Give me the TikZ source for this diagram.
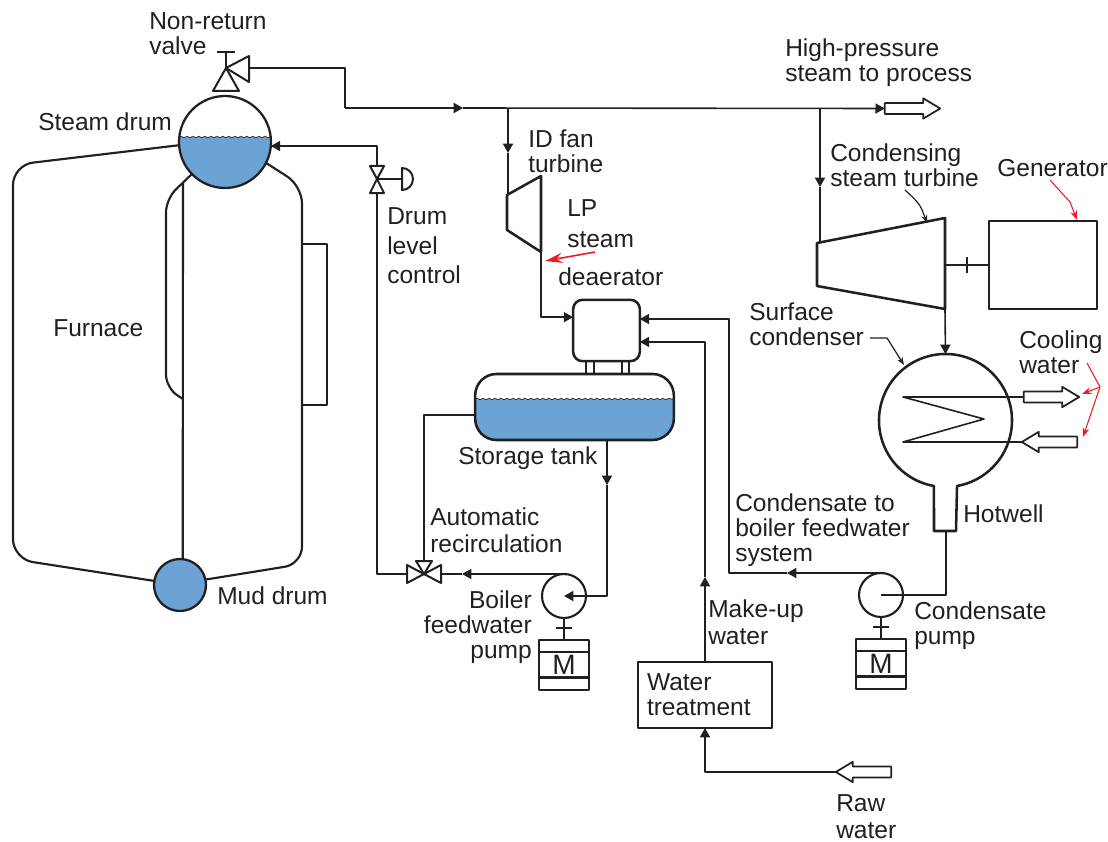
\documentclass[tikz,border=0pt]{standalone}
\usepackage{fontspec}
\setmainfont{Liberation Sans}
\usetikzlibrary{arrows.meta, positioning, shapes.arrows, decorations.pathmorphing}

\definecolor{inkblack}{HTML}{231F20}
\definecolor{waterblue}{HTML}{6CA3D5}
\definecolor{markred}{HTML}{ED1C24}

\begin{document}
\begin{tikzpicture}[
    x=0.75pt,
    y=-0.75pt,
    >=Stealth,
    line join=round,
    pipe/.style={draw=inkblack, line width=1.2pt},
    flow/.style={pipe, -{Triangle[length=7pt,width=7.5pt]}},
    wall/.style={draw=inkblack, line width=1.6pt},
    vessel/.style={draw=inkblack, line width=1.9pt, outer sep=0pt, inner sep=0pt},
    waterfill/.style={path picture={
        \fill[waterblue, sharp corners] (path picture bounding box.south west) rectangle ([yshift=#1]path picture bounding box.east);
        \draw[inkblack, sharp corners, line width=0.5pt, decorate, decoration={snake, amplitude=0.7pt, segment length=4.5pt}]
            ([yshift=#1]path picture bounding box.west) -- ([yshift=#1]path picture bounding box.east);
    }},
    drum/.style={circle, vessel, line width=1.7pt},
    pump/.style={circle, vessel, line width=1.6pt, minimum size=33pt},
    motor/.style={rectangle, vessel, line width=1.7pt, minimum size=37.5pt, text=inkblack,
        font=\fontsize{21}{21}\selectfont,
        path picture={
        \draw[inkblack, line width=1.7pt] ([yshift=-9pt]path picture bounding box.north west) -- ([yshift=-9pt]path picture bounding box.north east);
        \draw[inkblack, line width=1.7pt] ([yshift=9.4pt]path picture bounding box.south west) -- ([yshift=9.4pt]path picture bounding box.south east);
    }},
    hollow/.style={single arrow, draw=inkblack, line width=1.3pt, inner xsep=0pt, inner ysep=3.4pt, outer sep=0pt,
        minimum height=41.5pt, single arrow head extend=3.6pt,
        single arrow tip angle=62},
    lbl/.style={anchor=west, inner sep=0pt, align=left, text=inkblack,
        font=\fontsize{18.4}{18.75}\selectfont},
    leader/.style={draw=inkblack, line width=0.9pt, -{Stealth[length=6pt,width=4.5pt]}},
    redmark/.style={draw=markred, line width=0.8pt, -{Stealth[length=7pt,width=5pt]}},
]
\useasboundingbox (0,0) rectangle (1108,842);

% --- Drums ---
\node[drum, minimum size=69pt, waterfill=3.75pt] (steamdrum) at (225,142) {};
\node[drum, minimum size=39pt, fill=waterblue]   (muddrum)   at (180,585) {};

% --- Furnace walls ---
\draw[wall, rounded corners=15pt] (steamdrum.184) -- (13,165) -- (13,559) -- (muddrum.171);
\draw[wall, rounded corners=13pt] (steamdrum.-27) -- (302,186) -- (302,564) -- (muddrum.12);
\coordinate (walltop) at (183,183);
\draw[wall] (muddrum.84) -- (walltop);
\draw[wall, rounded corners=10pt] (steamdrum.224) -- (166,199) -- (166,388) -- (183,399);
\draw[wall] (302,244) -- (327,244) -- (327,405) -- (302,405);

% --- Valves ---
\coordinate (nrvalve) at (226,68);
\coordinate (nrport)  at (249,68);
\draw[vessel, line width=1.5pt] (nrvalve) -- (213,91) -- (239,91) -- cycle;
\draw[vessel, line width=1.5pt] (nrvalve) -- (249,56) -- (249,82) -- cycle;
\draw[pipe] (nrvalve) -- +(0,-16) +(-9,-16) -- +(9,-16);

\coordinate (dlvalve)  at (377,179);
\coordinate (dltop)    at (377,166);
\coordinate (dlbottom) at (377,193);
\draw[vessel, line width=1.5pt] (dlvalve) -- (370,166) -- (384,166) -- cycle;
\draw[vessel, line width=1.5pt] (dlvalve) -- (370,193) -- (384,193) -- cycle;
\draw[vessel, line width=1.5pt] (dlvalve) -- (402,179);
\draw[vessel, line width=1.5pt] (402,168) arc[start angle=90, end angle=-90, radius=8.25pt] -- cycle;

\coordinate (rcvalve) at (424,574);
\coordinate (rcleft)  at (407,574);
\coordinate (rcright) at (441,574);
\coordinate (rctop)   at (424,561);
\draw[vessel, line width=1.5pt] (rcvalve) -- (407,565) -- (407,583) -- cycle;
\draw[vessel, line width=1.5pt] (rcvalve) -- (441,565) -- (441,583) -- cycle;
\draw[vessel, line width=1.5pt] (rcvalve) -- (416,561) -- (432,561) -- cycle;

% --- Turbines and generator ---
\coordinate (idtop)    at (508,195);
\coordinate (idbottom) at (541,252);
\draw[vessel] (507,195) -- (541,176) -- (541,252) -- (507,230) -- cycle;

\coordinate (cstop)    at (820,242);
\coordinate (csshaft)  at (945,265);
\coordinate (csbottom) at (945,309);
\draw[vessel] (817,243) -- (945,218) -- (945,309) -- (817,286) -- cycle;
\node[vessel, rectangle, minimum width=81pt, minimum height=66pt] (generator) at (1043,265) {};

% --- Deaerator and tank ---
\node[vessel, rectangle, rounded corners=7pt, minimum width=50pt, minimum height=46pt] (deaerator) at (606.5,330.5) {};
\node[vessel, rectangle, rounded corners=16pt, minimum width=149pt, minimum height=49.5pt, waterfill=6pt] (tank) at (574.5,407) {};
\draw[pipe, line width=1.5pt] (586,361) -- (586,374) (594,361) -- (594,374);
\draw[pipe, line width=1.5pt] (622,361) -- (622,374) (629,361) -- (629,374);

% --- Condenser ---
\node[circle, minimum size=99.75pt, inner sep=0pt, outer sep=0pt] (condenser) at (945.5,420.5) {};
\draw[vessel] (condenser.260) arc[start angle=260, delta angle=-340, radius=49.875pt]
    -- (956,531) -- (934,531) -- cycle;
\coordinate (hotwell) at (946,531);

% --- Pumps, motors, water treatment ---
\node[pump] (fwpump) at (564,596) {};
\node[motor] (fwmotor) [below=16.5pt of fwpump] {M};
\node[pump] (cdpump) at (881,595) {};
\node[motor] (cdmotor) [below=16.5pt of cdpump] {M};
\node[vessel, rectangle, lbl, anchor=center, text width=87pt, inner xsep=6.75pt, minimum height=49.5pt] (wtreat) at (705,695) {Water\\treatment};

% --- Open arrows ---
\node[hollow] (hpsteam) at (908,108.5) {};
\node[hollow] (coolout) at (1047,397) {};
\node[hollow, shape border rotate=180] (coolin)   at (1054,442) {};
\node[hollow, shape border rotate=180] (rawwater) at (868,772) {};

% --- Steam lines ---
\coordinate (hpbend) at (345,108);
\coordinate (hpmark) at (463,108);
\coordinate (idtap)  at (508,108);
\coordinate (idmark) at (508,153);
\coordinate (cstap)  at (820,108);
\coordinate (csmark) at (820,187);
\draw[pipe] (nrport) -| (hpbend);
\draw[flow] (hpbend) -- (hpmark);
\draw[flow] (hpmark) -- (hpsteam.tail);
\draw[flow] (idtap) -- (idmark);
\draw[pipe] (idmark) -- (idtop);
\draw[flow] (cstap) -- (csmark);
\draw[pipe] (csmark) -- (cstop);
\draw[flow] (idbottom) |- ([yshift=10pt]deaerator.west);
\draw[flow] (csbottom) -- (condenser.north);
\draw[pipe] (csshaft) -- (generator.west);
\draw[pipe] (967,257) -- (967,273);

% --- Water lines ---
\coordinate (tkmark) at (607,485);
\coordinate (fwmark) at (462,574);
\coordinate (cdmark) at (787,573);
\coordinate (cdbend) at (729,573);
\coordinate (mumark) at (705,577);
\draw[flow] ([xshift=24.4pt]tank.south) -- (tkmark);
\draw[flow] (tkmark) |- (fwpump.center);
\draw[flow] (fwpump.north) -- (fwmark);
\draw[pipe] (fwmark) -- (rcright);
\draw[pipe] (rctop) |- ([yshift=-6pt]tank.west);
\draw[pipe] (rcleft) -| (dlbottom);
\draw[flow] (dltop) |- (steamdrum.-5);
\draw[pipe] (hotwell) |- (cdpump.center);
\draw[flow] (cdpump.north) -- (cdmark);
\draw[flow] (cdmark) -- (cdbend) |- ([yshift=8.6pt]deaerator.east);
\draw[flow] (wtreat.north) -- (mumark);
\draw[flow] (mumark) |- ([yshift=-8.6pt]deaerator.east);
\draw[flow] (rawwater.tip) -| (wtreat.south);
\draw[pipe] (coolout.tail) -- (903,397) -- (984,419) -- (903,442) -- (coolin.tip);

% --- Shafts ---
\draw[pipe] (fwpump.south) -- (fwmotor.north);
\draw[pipe] (fwpump.south) ++(-8,10) -- +(16,0);
\draw[pipe] (cdpump.south) -- (cdmotor.north);
\draw[pipe] (cdpump.south) ++(-8,10) -- +(16,0);

% --- Leaders ---
\coordinate (csleader) at (905,190);
\coordinate (sfleader) at (870,338);
\draw[leader] (csleader) .. controls (920,204) .. (927,223);
\draw[leader] (sfleader) -- (887,338) -- (904,365);
\coordinate (gnleader) at (1050,180);
\coordinate (cwleader) at (1087,363);
\coordinate (cwfork)   at (1100,387);
\coordinate (lpleader) at (595,252);
\draw[redmark] (gnleader) -- (1070,202) -- (1077,220);
\draw[redmark] (cwfork) -- (1082,394);
\draw[redmark] (cwleader) -- (cwfork) -- (1083,437);
\draw[redmark, line width=1.2pt, -{Stealth[length=13pt,width=7.5pt]}] (lpleader) -- (545,261);

% --- Labels ---
\node[lbl] (lblnonreturn) at (149,34) {Non-return\\valve};
\node[lbl] (lblsteamdrum) at (38,122) {Steam drum};
\node[lbl] (lblfurnace)   at (53,328) {Furnace};
\node[lbl] (lblmuddrum)   at (217,596) {Mud drum};
\node[lbl, font=\fontsize{18.4}{22}\selectfont] (lbldrumlevel) at (387,246) {Drum\\level\\control};
\node[lbl] (lblidfan)     at (528,151) {ID fan\\turbine};
\node[lbl, font=\fontsize{18.4}{23}\selectfont] (lbllpsteam) at (567,224) {LP\\steam};
\node[lbl] (lbldeaerator) at (558,277) {deaerator};
\node[lbl] (lblhp)        at (785,63) {High-pressure\\steam to process};
\node[lbl] (lblcondens)   at (830,165) {Condensing\\steam turbine};
\node[lbl] (lblgenerator) at (997,168) {Generator};
\node[lbl] (lblsurface)   at (749,324) {Surface\\condenser};
\node[lbl] (lblcooling)   at (1019,352) {Cooling\\water};
\node[lbl] (lblstorage)   at (458,458) {Storage tank};
\node[lbl] (lblhotwell)   at (963,514) {Hotwell};
\node[lbl, font=\fontsize{18.4}{20}\selectfont] (lblrecirc) at (430,530) {Automatic\\recirculation};
\node[lbl] (lblcdsystem)  at (735,530) {Condensate to\\boiler feedwater\\system};
\node[lbl, anchor=east, align=right, font=\fontsize{18.4}{19}\selectfont] (lblfwpump) at (532,627) {Boiler\\feedwater\\pump};
\node[lbl] (lblcdpump)    at (914,626) {Condensate\\pump};
\node[lbl, font=\fontsize{18.4}{20}\selectfont] (lblmakeup) at (708,622) {Make-up\\water};
\node[lbl, font=\fontsize{18.4}{20}\selectfont] (lblraw) at (836,817) {Raw\\water};

\end{tikzpicture}
\end{document}
